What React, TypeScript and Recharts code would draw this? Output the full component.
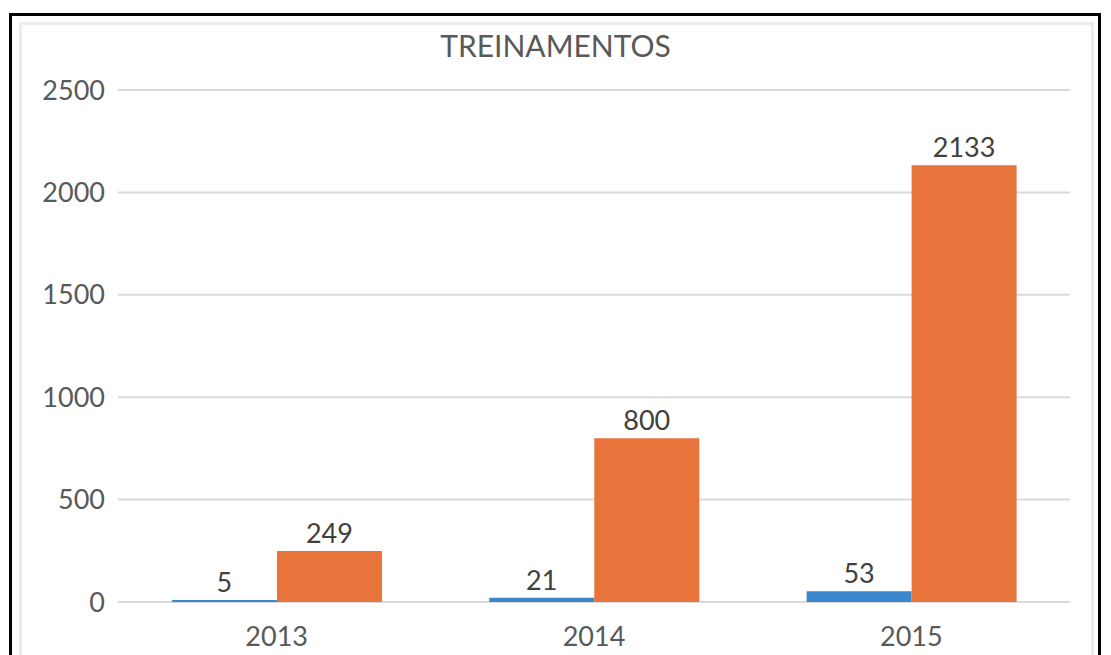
import React from 'react'
import { BarChart, Bar, XAxis, YAxis, CartesianGrid, LabelList } from 'recharts'

const years = ['2013', '2014', '2015']
const blueValues = [5, 21, 53]
const orangeValues = [249, 800, 2133]
const yTicks = [0, 500, 1000, 1500, 2000, 2500]

const data = years.map((year, i) => ({ year, a: blueValues[i], b: orangeValues[i] }))

const font = 'Lato, "Open Sans", sans-serif'
const textGray = '#595959'

export default function App() {
  return (
    <div style={{ position: 'absolute', left: 0, top: 0, width: 1111, height: 655, overflow: 'hidden', background: '#fff' }}>
      <div style={{ position: 'absolute', left: 9, top: 13, width: 1092, height: 700, border: '3px solid #000', boxSizing: 'border-box' }} />
      <div style={{ position: 'absolute', left: 19, top: 22, width: 1075, height: 700, border: '3px solid #ececec', boxSizing: 'border-box' }} />
      <div style={{ position: 'absolute', left: 0, top: 29, width: 1111, textAlign: 'center', fontFamily: font, fontSize: 30, color: textGray, lineHeight: '32px' }}>
        TREINAMENTOS
      </div>
      <div style={{ position: 'absolute', left: 0, top: 0 }}>
        <BarChart width={1111} height={655} data={data} margin={{ top: 90, right: 41, bottom: 23, left: 0 }} barCategoryGap="17%" barGap={0}>
          <CartesianGrid vertical={false} stroke="#dadada" strokeWidth={2} />
          <XAxis dataKey="year" height={30} tickLine={false} axisLine={false} tickSize={0} tickMargin={25}
            tick={{ fontSize: 27, fill: textGray, fontFamily: font }} />
          <YAxis width={118} domain={[0, 2500]} ticks={yTicks} tickLine={false} axisLine={false} tickSize={0} tickMargin={13}
            tick={{ fontSize: 27, fill: textGray, fontFamily: font }} />
          <Bar dataKey="a" fill="#3a87cc" minPointSize={2} isAnimationActive={false}>
            <LabelList dataKey="a" position="top" offset={8} fill="#404040" fontSize={27} fontFamily={font} />
          </Bar>
          <Bar dataKey="b" fill="#e8743b" isAnimationActive={false}>
            <LabelList dataKey="b" position="top" offset={8} fill="#404040" fontSize={27} fontFamily={font} />
          </Bar>
        </BarChart>
      </div>
    </div>
  )
}
